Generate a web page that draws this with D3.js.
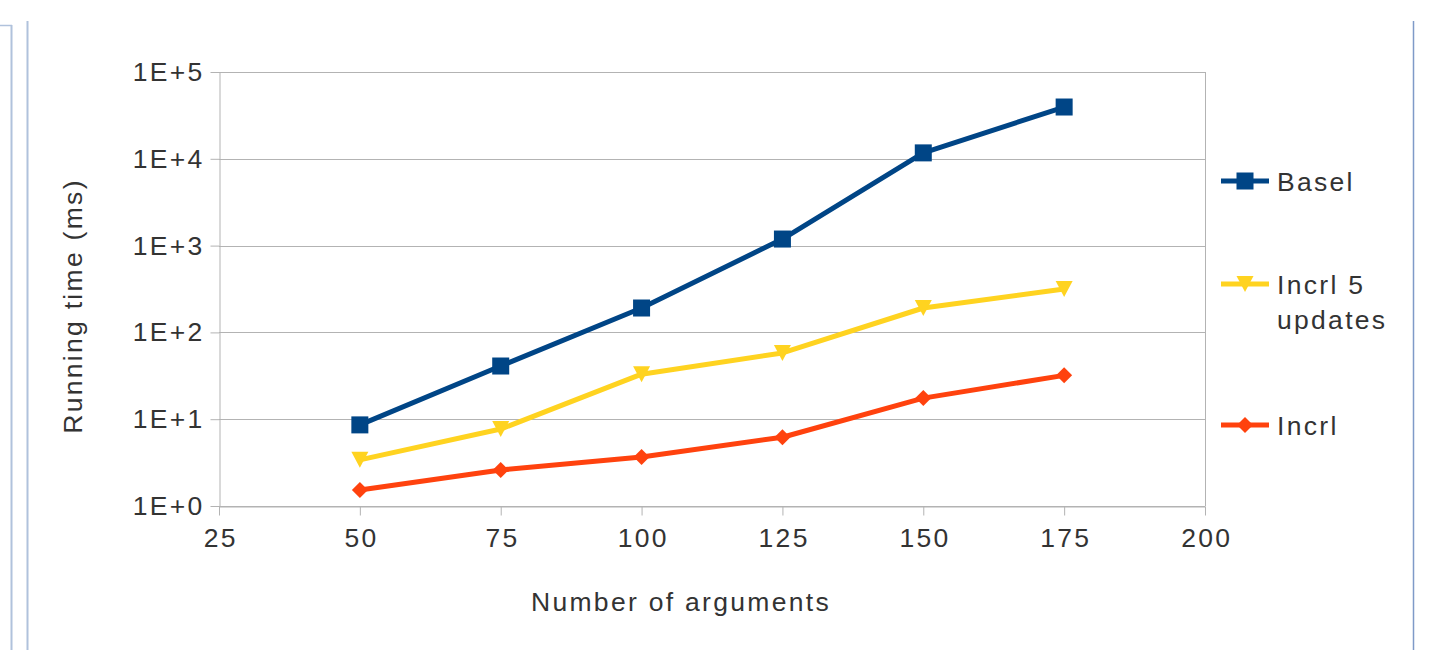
<!DOCTYPE html>
<html><head><meta charset="utf-8">
<script src="https://cdn.jsdelivr.net/npm/d3@7"></script>
<style>body{margin:0;background:#fff}svg{display:block}text{font-family:"Liberation Sans",Arial,sans-serif;fill:#333;letter-spacing:2.3px}</style>
</head><body>
<script>
const xValues = [50, 75, 100, 125, 150, 175];
const basel = [8.6, 41, 191, 1190, 11700, 39500];
const incrl5 = [3.4, 7.7, 33, 58, 191, 316];
const incrl = [1.53, 2.6, 3.67, 6.2, 17.5, 32];
const xTicks = [25, 50, 75, 100, 125, 150, 175, 200];
const yTicks = [1, 10, 100, 1000, 10000, 100000];
const yTickLabels = ["1E+0", "1E+1", "1E+2", "1E+3", "1E+4", "1E+5"];
const seriesNames = ["Basel", "Incrl 5\nupdates", "Incrl"];
const colors = ["#004586", "#ffd320", "#ff420e"];

const W = 1438, H = 650, FS = 26.5;
const svg = d3.select("body").append("svg").attr("width", W).attr("height", H);

// page frame lines
const frame = "#b0c2dc";
svg.append("line").attr("x1",0).attr("x2",12).attr("y1",25.5).attr("y2",25.5).attr("stroke",frame).attr("stroke-width",1.5);
svg.append("line").attr("x1",11.5).attr("x2",11.5).attr("y1",25).attr("y2",H).attr("stroke",frame).attr("stroke-width",2);
svg.append("line").attr("x1",27.5).attr("x2",27.5).attr("y1",21).attr("y2",H).attr("stroke",frame).attr("stroke-width",2);
svg.append("line").attr("x1",1413.5).attr("x2",1413.5).attr("y1",21).attr("y2",H).attr("stroke","#7f9ac8").attr("stroke-width",1.5);

const x = d3.scaleLinear().domain([25, 200]).range([219, 1205]);
const y = d3.scaleLog().domain([1, 100000]).range([506, 72]);

const g = svg.append("g");
g.selectAll(".grid").data(yTicks).join("line")
  .attr("x1", x(25)).attr("x2", x(200))
  .attr("y1", d => Math.round(y(d)) + 0.5).attr("y2", d => Math.round(y(d)) + 0.5)
  .attr("stroke", "#b3b3b3").attr("stroke-width", 1);
g.append("line").attr("x1", x(200)+0.5).attr("x2", x(200)+0.5).attr("y1", y(100000)).attr("y2", y(1))
  .attr("stroke", "#b3b3b3");

const yAxis = d3.axisLeft(y).tickValues(yTicks).tickFormat((d,i) => yTickLabels[i]).tickSize(9).tickSizeOuter(0);
const ya = svg.append("g").attr("transform", `translate(${x(25)+0.5},0)`).call(yAxis);
ya.select(".domain").attr("stroke", "#b3b3b3");
ya.selectAll(".tick line").attr("stroke", "#b3b3b3");
ya.selectAll(".tick text").attr("font-size", FS).attr("fill", "#333").attr("x", -15)
  .attr("font-family", "Liberation Sans, Arial, sans-serif");

const xAxis = d3.axisBottom(x).tickValues(xTicks).tickSize(9).tickSizeOuter(0);
const xa = svg.append("g").attr("transform", `translate(0,${y(1)+0.5})`).call(xAxis);
xa.select(".domain").attr("stroke", "#b3b3b3");
xa.selectAll(".tick line").attr("stroke", "#b3b3b3");
xa.selectAll(".tick text").attr("font-size", FS).attr("fill", "#333").attr("y", 22).attr("dx", 1.2)
  .attr("font-family", "Liberation Sans, Arial, sans-serif");

svg.append("text").attr("x", 681).attr("y", 611).attr("text-anchor", "middle").attr("font-size", FS).text("Number of arguments");
svg.append("text").attr("transform", "translate(82,306) rotate(-90)").attr("text-anchor", "middle").attr("font-size", FS).text("Running time (ms)");

const allSeries = [basel, incrl5, incrl];
const line = d3.line().x((d,i) => x(xValues[i])).y(d => y(d));

function marker(sel, k, cx, cy) {
  if (k === 0) {
    sel.append("rect").attr("x", cx - 8.5).attr("y", cy - 8.5).attr("width", 17).attr("height", 17).attr("fill", colors[0]);
  } else if (k === 1) {
    sel.append("path").attr("d", `M${cx-8.5},${cy-8}L${cx+8.5},${cy-8}L${cx},${cy+8}Z`).attr("fill", colors[1]);
  } else {
    sel.append("path").attr("d", `M${cx},${cy-8}L${cx+8},${cy}L${cx},${cy+8}L${cx-8},${cy}Z`).attr("fill", colors[2]);
  }
}

allSeries.forEach((s, k) => {
  svg.append("path").datum(s).attr("d", line).attr("fill", "none")
    .attr("stroke", colors[k]).attr("stroke-width", 5).attr("stroke-linejoin", "round");
});
allSeries.forEach((s, k) => {
  const mg = svg.append("g");
  s.forEach((v, i) => marker(mg, k, x(xValues[i]), y(v)));
});

const legY = [181, 284, 425];
seriesNames.forEach((name, k) => {
  const lg = svg.append("g");
  const ly = legY[k];
  lg.append("line").attr("x1", 1221).attr("x2", 1269).attr("y1", ly).attr("y2", ly).attr("stroke", colors[k]).attr("stroke-width", 5);
  marker(lg, k, 1245, ly);
  const lines = name.split("\n");
  const t = lg.append("text").attr("x", 1277).attr("y", ly + 10).attr("font-size", FS);
  lines.forEach((ln, j) => t.append("tspan").attr("x", 1277).attr("dy", j === 0 ? 0 : 35).text(ln));
});
</script>
</body></html>
